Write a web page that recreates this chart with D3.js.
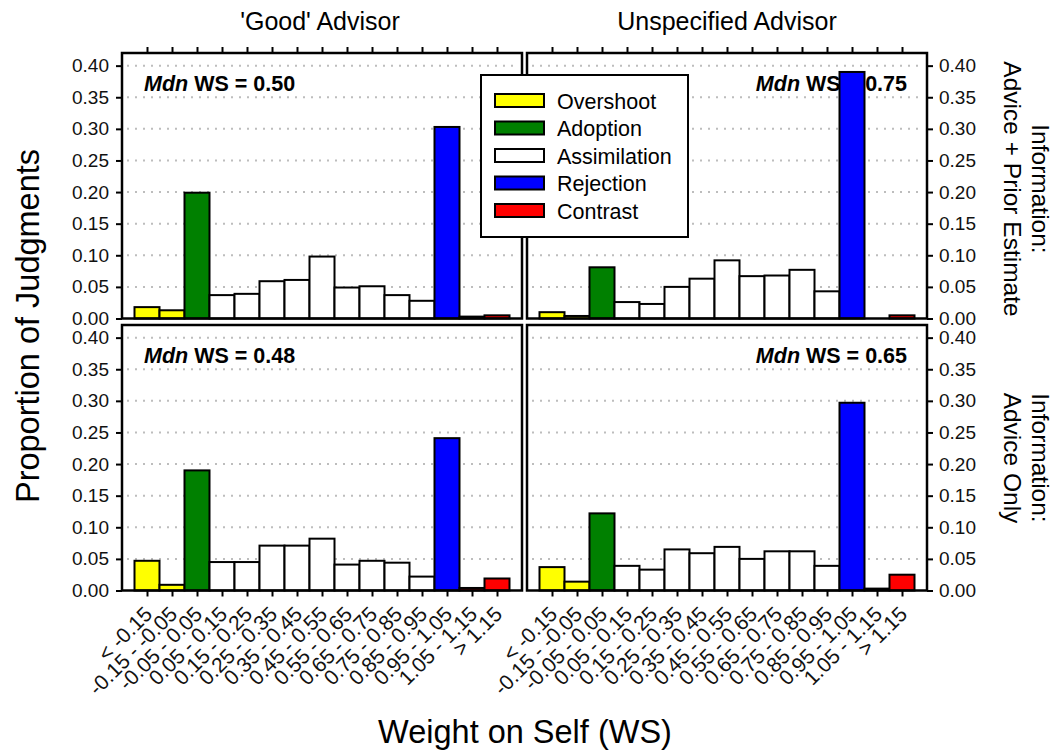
<!DOCTYPE html>
<html>
<head>
<meta charset="utf-8">
<script src="https://cdn.jsdelivr.net/npm/d3@7"></script>
<style>
body { margin: 0; background: #fff; }
svg { font-family: "Liberation Sans", Arial, sans-serif; }
.grid line { stroke: #bdbdbd; stroke-dasharray: 2 6; stroke-width: 2; }
.axis path, .axis line { stroke: #000; stroke-width: 2; }
.axis text { font-size: 19px; fill: #111; }
</style>
</head>
<body>
<svg id="chart" width="1056" height="752"></svg>
<script>
// bins of weight on self
var bins = ["< -0.15", "-0.15 - -0.05", "-0.05 - 0.05", "0.05 - 0.15", "0.15 - 0.25",
  "0.25 - 0.35", "0.35 - 0.45", "0.45 - 0.55", "0.55 - 0.65", "0.65 - 0.75",
  "0.75 - 0.85", "0.85 - 0.95", "0.95 - 1.05", "1.05 - 1.15", "> 1.15"];
var binType = ["Overshoot", "Overshoot", "Adoption", "Assimilation", "Assimilation",
  "Assimilation", "Assimilation", "Assimilation", "Assimilation", "Assimilation",
  "Assimilation", "Assimilation", "Rejection", "Contrast", "Contrast"];

var legendNames = ["Overshoot", "Adoption", "Assimilation", "Rejection", "Contrast"];
var legendColors = ["#ffff00", "#008000", "#ffffff", "#0000ff", "#ff0000"];

var goodPrior = [0.018, 0.013, 0.199, 0.037, 0.039, 0.059, 0.061, 0.098, 0.049, 0.051, 0.037, 0.028, 0.303, 0.003, 0.005];
var unspecPrior = [0.010, 0.004, 0.081, 0.026, 0.023, 0.050, 0.063, 0.092, 0.067, 0.068, 0.077, 0.043, 0.390, 0.000, 0.005];
var goodOnly = [0.047, 0.009, 0.190, 0.045, 0.045, 0.071, 0.071, 0.082, 0.041, 0.047, 0.044, 0.022, 0.241, 0.004, 0.019];
var unspecOnly = [0.037, 0.014, 0.122, 0.039, 0.033, 0.065, 0.059, 0.069, 0.050, 0.062, 0.062, 0.039, 0.297, 0.003, 0.025];

var medians = ["0.50", "0.75", "0.48", "0.65"];
var yTicks = [0, 0.05, 0.10, 0.15, 0.20, 0.25, 0.30, 0.35, 0.40];

var svg = d3.select("#chart");
var color = d3.scaleOrdinal().domain(legendNames).range(legendColors);

var cols = [[122, 522], [527, 927]];
var rows = [[318.5, 53], [590.5, 325]];

var panels = [
  {values: goodPrior, col: 0, row: 0, mdn: medians[0]},
  {values: unspecPrior, col: 1, row: 0, mdn: medians[1]},
  {values: goodOnly, col: 0, row: 1, mdn: medians[2]},
  {values: unspecOnly, col: 1, row: 1, mdn: medians[3]}
];

panels.forEach(function(p) {
  var x = d3.scaleLinear().domain([0, 16]).range(cols[p.col]);
  var y = d3.scaleLinear().domain([0, 0.42]).range(rows[p.row]);
  var g = svg.append("g");

  // dotted grid
  g.append("g").attr("class", "grid")
    .selectAll("line")
    .data(yTicks.slice(1))
    .enter().append("line")
    .attr("x1", x(0) + 5).attr("x2", x(16) - 4)
    .attr("y1", function(d) { return y(d); })
    .attr("y2", function(d) { return y(d); });

  // median label
  var t = g.append("text")
    .attr("y", y(0.4) + 25)
    .attr("font-size", "21.5px").attr("font-weight", "bold");
  if (p.col == 0) t.attr("x", x(0) + 22);
  else t.attr("x", x(16) - 20).attr("text-anchor", "end");
  t.append("tspan").attr("font-style", "italic").text("Mdn");
  t.append("tspan").text(" WS = " + p.mdn);

  // bars
  g.append("g").selectAll("rect")
    .data(p.values)
    .enter().append("rect")
    .attr("x", function(d, i) { return x(i + 0.5); })
    .attr("width", x(1) - x(0))
    .attr("y", function(d) { return y(d); })
    .attr("height", function(d) { return y(0) - y(d); })
    .attr("fill", function(d, i) { return color(binType[i]); })
    .attr("stroke", "#000")
    .attr("stroke-width", 2);

  // frame
  g.append("rect")
    .attr("x", x(0)).attr("y", y(0.42))
    .attr("width", x(16) - x(0)).attr("height", y(0) - y(0.42))
    .attr("fill", "none").attr("stroke", "#000").attr("stroke-width", 2.5);

  // y axis
  var yAxis = (p.col == 0 ? d3.axisLeft(y) : d3.axisRight(y))
    .tickValues(yTicks).tickSize(6).tickPadding(p.col == 0 ? 7 : 6).tickFormat(d3.format(".2f"));
  g.append("g").attr("class", "axis")
    .attr("transform", "translate(" + (p.col == 0 ? x(0) : x(16)) + ",0)")
    .call(yAxis)
    .call(function(a) { a.select(".domain").remove(); });

  // x ticks
  var xAxis = (p.row == 0 ? d3.axisTop(x) : d3.axisBottom(x))
    .tickValues(d3.range(1, 16)).tickSize(6).tickFormat("");
  var xa = g.append("g").attr("class", "axis")
    .attr("transform", "translate(0," + (p.row == 0 ? y(0.42) : y(0)) + ")")
    .call(xAxis)
    .call(function(a) { a.select(".domain").remove(); });

  if (p.row == 1) {
    xa.selectAll(".tick").append("text")
      .attr("transform", "translate(6,25) rotate(-45)")
      .attr("text-anchor", "end")
      .style("font-size", "21px")
      .text(function(d) { return bins[d - 1]; });
  }
});

// column titles
svg.append("text").attr("x", 320).attr("y", 30).attr("text-anchor", "middle")
  .attr("font-size", "25px").text("'Good' Advisor");
svg.append("text").attr("x", 727).attr("y", 30).attr("text-anchor", "middle")
  .attr("font-size", "25px").text("Unspecified Advisor");

// axis titles
svg.append("text").attr("transform", "translate(39,326) rotate(-90)")
  .attr("text-anchor", "middle").attr("font-size", "32.5px").text("Proportion of Judgments");
svg.append("text").attr("x", 525).attr("y", 743).attr("text-anchor", "middle")
  .attr("font-size", "32.5px").text("Weight on Self (WS)");

// row titles
var rowTitles = [["Information:", "Advice + Prior Estimate", 189], ["Information:", "Advice Only", 458]];
rowTitles.forEach(function(r) {
  svg.append("text").attr("transform", "translate(1032," + r[2] + ") rotate(90)")
    .attr("text-anchor", "middle").attr("font-size", "24.5px").text(r[0]);
  svg.append("text").attr("transform", "translate(1004," + r[2] + ") rotate(90)")
    .attr("text-anchor", "middle").attr("font-size", "24.5px").text(r[1]);
});

// legend
var lg = svg.append("g").attr("transform", "translate(481,75)");
lg.append("rect").attr("width", 207).attr("height", 162)
  .attr("fill", "#fff").attr("stroke", "#000").attr("stroke-width", 2);
var item = lg.selectAll(".item")
  .data(legendNames)
  .enter().append("g")
  .attr("transform", function(d, i) { return "translate(0," + (26 + i * 27.5) + ")"; });
item.append("rect").attr("x", 14).attr("y", -7).attr("width", 49).attr("height", 13)
  .attr("fill", function(d) { return color(d); })
  .attr("stroke", "#000").attr("stroke-width", 2);
item.append("text").attr("x", 76).attr("y", 0).attr("dy", "0.36em")
  .attr("font-size", "21.5px").text(function(d) { return d; });
</script>
</body>
</html>
